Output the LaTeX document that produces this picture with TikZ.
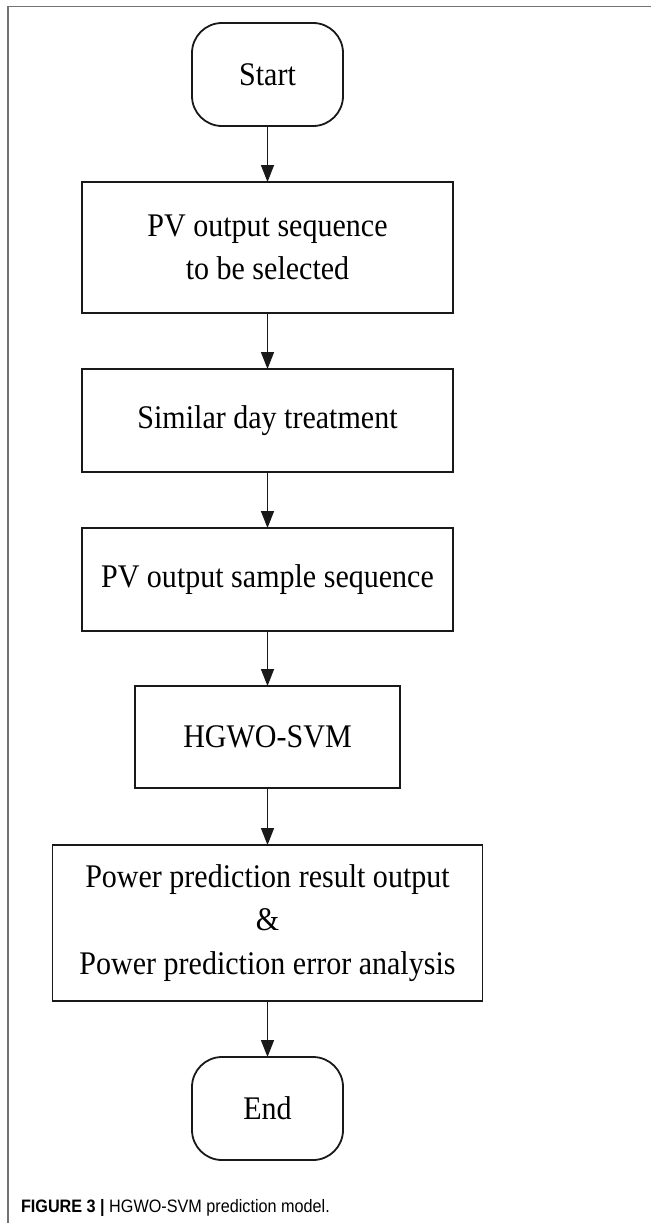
\documentclass[tikz,border=0pt]{standalone}
\usepackage{fontspec}
\setmainfont{Liberation Serif}[FakeStretch=0.91]
\newfontfamily\capfont{Liberation Sans}[FakeStretch=0.9]
\usetikzlibrary{arrows.meta}
\begin{document}
\begin{tikzpicture}[x=1pt,y=-1pt,
  every node/.style={inner sep=0pt, outer sep=0pt},
  boxtxt/.style={font=\fontsize{33}{43.5}\selectfont, align=center},
  procbox/.style={boxtxt, draw=black!90, line width=1.8pt, rectangle},
  termbox/.style={boxtxt, draw=black!90, line width=1.8pt, rectangle, rounded corners=30pt,
    minimum width=151pt, minimum height=103pt},
  flow/.style={draw=black!90, line width=1.6pt, -{Triangle[length=17pt,width=13pt]}}]
\useasboundingbox (0,0) rectangle (651,1223);
\fill[white] (0,0) rectangle (651,1223);
% frame
\draw[color=black!55, line width=1.5pt] (8,1223) -- (8,6.5) -- (651,6.5);
% nodes
\node[termbox] (start) at (267.5,74.5) {Start};
\node[procbox, minimum width=371pt, minimum height=131pt] (b1) at (267.5,247.5)
  {PV output sequence\\to be selected};
\node[procbox, minimum width=371pt, minimum height=103pt] (b2) at (267.5,420.5)
  {Similar day treatment};
\node[procbox, minimum width=371pt, minimum height=103pt] (b3) at (267.5,579.5)
  {PV output sample sequence};
\node[procbox, minimum width=265pt, minimum height=102pt] (b4) at (267.5,737)
  {HGWO-SVM};
\node[procbox, minimum width=430pt, minimum height=156pt] (b5) at (267.5,923)
  {Power prediction result output\\\&\\Power prediction error analysis};
\node[termbox] (end) at (267.5,1108.5) {End};
% connectors
\draw[flow] (start) -- (b1);
\draw[flow] (b1) -- (b2);
\draw[flow] (b2) -- (b3);
\draw[flow] (b3) -- (b4);
\draw[flow] (b4) -- (b5);
\draw[flow] (b5) -- (end);
% caption
\node[anchor=base west] (cap) at (21,1212)
  {\capfont\fontsize{18}{21}\selectfont\textbf{FIGURE 3 |} HGWO-SVM prediction model.};
\end{tikzpicture}
\end{document}
